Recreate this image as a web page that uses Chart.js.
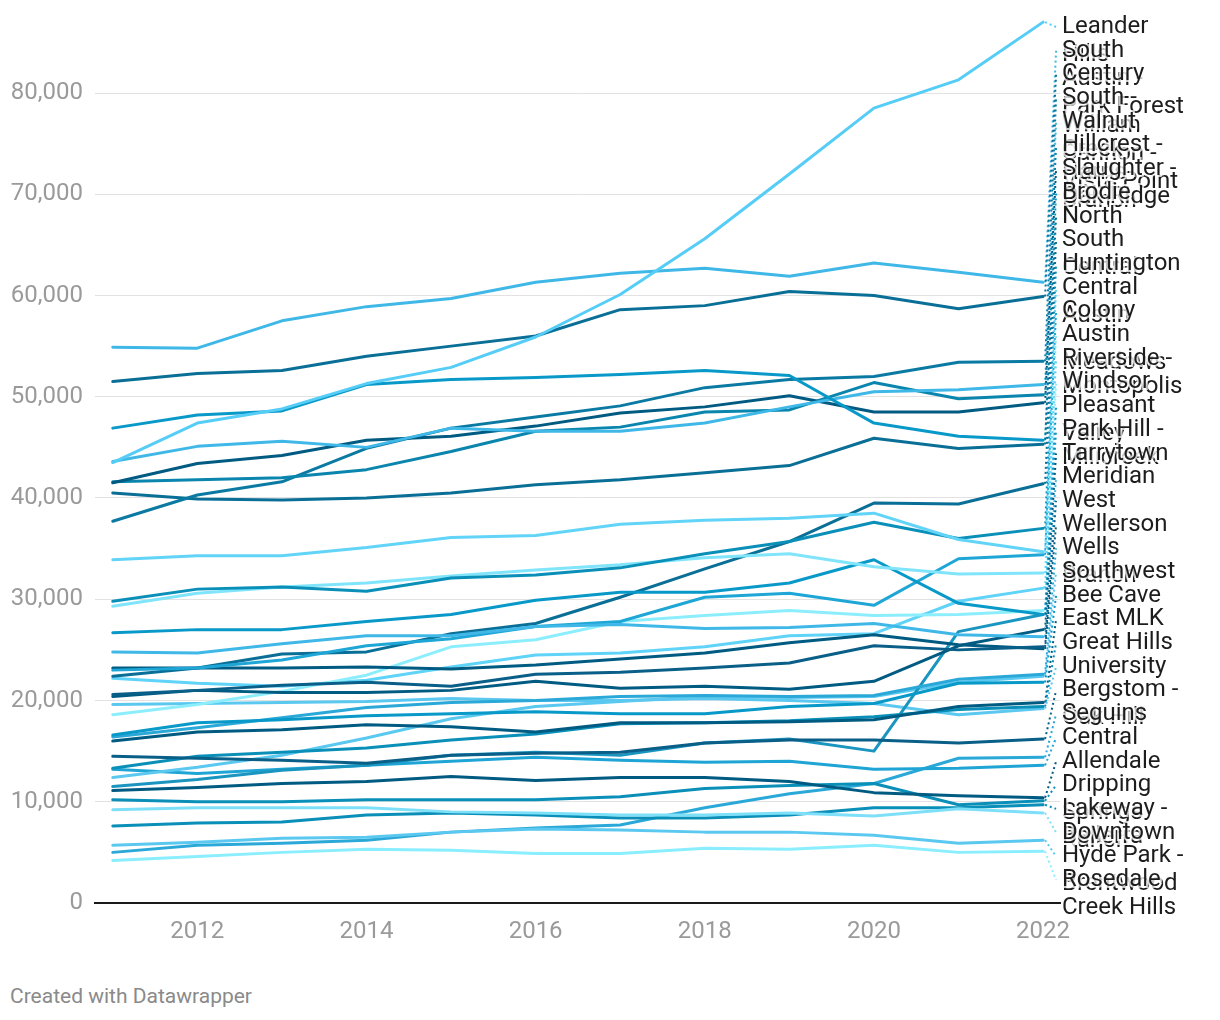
<!DOCTYPE html>
<html><head><meta charset="utf-8">
<script src="https://cdn.jsdelivr.net/npm/chart.js@4.4.1/dist/chart.umd.min.js"></script>
<style>
body{margin:0;background:#fff;font-family:Roboto,sans-serif}
#wrap{position:relative;width:1220px;height:960px}
#foot{position:absolute;left:10px;top:984px;font:21px Roboto,sans-serif;color:#8a8a8a}
</style></head><body>
<div id="wrap"><canvas id="c"></canvas></div>
<div id="foot">Created with Datawrapper</div>
<script>
const years = [2011,2012,2013,2014,2015,2016,2017,2018,2019,2020,2021,2022];
const xTicks = [2012,2014,2016,2018,2020,2022];
const yTicks = [0,10000,20000,30000,40000,50000,60000,70000,80000];

const s01 = [43500,47400,48800,51300,52900,55900,60100,65600,72000,78500,81300,87000];
const s02 = [54900,54800,57500,58900,59700,61300,62200,62700,61900,63200,62300,61300];
const s03 = [51500,52300,52600,54000,55000,56000,58600,59000,60400,60000,58700,59900];
const s04 = [46900,48200,48600,51200,51700,51900,52200,52600,52100,47400,46100,45700];
const s05 = [43600,45100,45600,45000,46900,46600,46600,47400,49000,50500,50700,51200];
const s06 = [41500,43400,44200,45700,46100,47100,48400,49000,50100,48500,48500,49400];
const s07 = [41600,41800,42000,42800,44600,46600,47000,48500,48700,51400,49800,50200];
const s08 = [37700,40300,41600,44900,46900,48000,49100,50900,51700,52000,53400,53500];
const s09 = [40500,39900,39800,40000,40500,41300,41800,42500,43200,45900,44900,45300];
const s10 = [33900,34300,34300,35100,36100,36300,37400,37800,38000,38500,35900,34700];
const s11 = [29800,31000,31200,30800,32100,32400,33100,34500,35700,37600,36000,37000];
const s12 = [29300,30600,31200,31600,32300,32900,33400,34100,34500,33200,32500,32600];
const s13 = [26700,27000,27000,27800,28500,29900,30700,30700,31600,33900,29600,28500];
const s14 = [24800,24700,25600,26400,26400,27300,27500,27100,27200,27600,26500,26300];
const s15 = [23000,23200,24000,25400,26100,27300,27800,30200,30600,29400,34000,34400];
const s16 = [22400,23200,24600,24800,26600,27600,30200,33000,35700,39500,39400,41400];
const s17 = [20600,21000,21500,21800,21400,22600,22800,23200,23700,25400,25000,25300];
const s18 = [20400,21000,20800,20800,21000,21900,21200,21400,21100,21900,25400,27000];
const s19 = [23200,23200,23200,23300,23100,23500,24100,24700,25700,26500,25500,25100];
const s20 = [16600,17800,18100,18500,18700,18900,18700,18700,19400,19700,21700,21800];
const s21 = [16400,17300,18300,19300,19800,20000,20400,20500,20400,20500,22100,22600];
const s22 = [16000,16900,17100,17600,17400,16900,17800,17800,17900,18100,19400,19800];
const s23 = [14500,14300,14100,13800,14600,14800,14900,15800,16100,16100,15800,16200];
const s24 = [13300,14500,14900,15300,16100,16700,17700,17800,18000,18400,19100,19400];
const s25 = [11500,12200,13100,13600,14600,14900,14600,15800,16200,15000,26800,28500];
const s26 = [18600,19600,20900,22500,25300,26000,27800,28400,28900,28400,28500,28900];
const s27 = [22200,21700,21400,22000,23300,24500,24700,25300,26400,26600,29800,31100];
const s28 = [12400,13400,14600,16300,18200,19400,19900,20400,20300,20400,21800,22400];
const s29 = [19600,19700,19800,19900,20200,20000,20000,20200,20000,19700,18600,19200];
const s30 = [13200,12800,13200,13600,14000,14400,14100,13900,14000,13200,13300,13600];
const s31 = [11100,11400,11800,12000,12500,12100,12400,12400,12000,10900,10600,10400];
const s32 = [10200,10000,10000,10200,10200,10200,10500,11300,11600,11800,9700,10100];
const s33 = [9200,9400,9400,9400,9000,8900,8700,8700,8900,8600,9300,8900];
const s34 = [7600,7900,8000,8700,8900,8700,8400,8400,8700,9400,9400,9700];
const s35 = [5700,6000,6400,6500,7000,7300,7200,7000,7000,6700,5900,6200];
const s36 = [5000,5700,5900,6200,7000,7400,7700,9400,10800,11800,14300,14400];
const s37 = [4200,4600,5000,5300,5200,4900,4900,5400,5300,5700,5000,5100];

const seriesValues = [s01,s02,s03,s04,s05,s06,s07,s08,s09,s10,s11,s12,s13,s14,s15,s16,s17,s18,s19,s20,s21,s22,s23,s24,s25,s26,s27,s28,s29,s30,s31,s32,s33,s34,s35,s36,s37];
const seriesNames = [
"Leander Hills","South Austin - Park Forest","Century","Brodie","Walnut Creek",
"Slaughter - Oak Ridge","Hillcrest - Harris Branch","South - William Cannon - Vista Point","North","Central Austin",
"Huntington","Austin Meadows","Pleasant Valley","Meridian","Colony","South Central",
"West","Tarrytown","Wellerson","Bee Cave","Wells Branch","East MLK","Bergstom - Oak Hill","Great Hills",
"Park Hill - Millcreek","Windsor","Riverside - Montopolis","Southwest","University","Central",
"Allendale","Dripping Springs Ranch","Downtown","Lakeway - Bellerra","Hyde Park - Brentwood","Seguins","Rosedale Creek Hills"
];
const colors = ["#56cdf6","#3fb8e8","#0a6f96","#0899c8","#3fb8e8","#005b82","#0a85ad","#0a7aa3","#0a6f96",
"#62d4f8","#0a8fb8","#80e4fb","#0899c8","#3fb8e8","#1ea6d6","#0a6f96","#0a5f88","#005b82","#005b82",
"#0899c8","#2aa8d8","#005b82","#0a5f88","#0a8fb8","#1a95c0","#8ceefd","#5fd3f8","#5bc8f0","#5bc8f0",
"#1fa5d5","#005b82","#0a8fb8","#7ddff8","#0a8fb8","#5bc8f0","#2aa8d8","#8aeeff"];

const datasets = seriesValues.map((vals,i)=>({
  label: seriesNames[i],
  data: years.map((y,j)=>({x:y,y:vals[j]})),
  borderColor: colors[i], backgroundColor: colors[i],
  borderWidth: 3, pointRadius: 0, tension: 0, fill:false,
  borderJoinStyle:'round', borderCapStyle:'round', clip:false
}));

function wrap(ctx, text, maxW){
  const words = text.split(' '); const lines=[]; let cur='';
  for(const w of words){
    const t = cur ? cur+' '+w : w;
    if(ctx.measureText(t).width > maxW && cur){ lines.push(cur); cur=w; } else cur=t;
  }
  if(cur) lines.push(cur);
  return lines;
}

const labelPlugin = {
  id:'labels',
  afterDatasetsDraw(chart){
    const ctx = chart.ctx;
    const n = chart.data.datasets.length;
    const items = chart.data.datasets.map((d,i)=>{
      const m = chart.getDatasetMeta(i).data;
      const p = m[m.length-1];
      return {i, v:d.data[d.data.length-1].y, px:p.x, py:p.y, color:d.borderColor, name:d.label};
    }).sort((a,b)=>b.v-a.v);
    const top = 27, bottom = 880;
    const step = (bottom-top)/(n-1);
    ctx.save();
    items.forEach((it,k)=>{
      const ly = top + k*step;
      ctx.beginPath();
      ctx.setLineDash([2,3]);
      ctx.lineWidth = 2;
      ctx.strokeStyle = it.color;
      ctx.moveTo(it.px+2, it.py);
      ctx.lineTo(it.px+13, ly);
      ctx.stroke();
    });
    ctx.setLineDash([]);
    ctx.font = '24px Roboto';
    ctx.textBaseline = 'middle';
    ctx.textAlign = 'left';
    items.forEach((it,k)=>{
      const ly = top + k*step;
      const lines = wrap(ctx, it.name, 128);
      lines.forEach((ln,j)=>{
        const y = ly + j*28;
        ctx.lineWidth = 4;
        ctx.strokeStyle = 'rgba(255,255,255,0.75)';
        ctx.strokeText(ln, 1062, y);
        ctx.fillStyle = '#1d1d1d';
        ctx.fillText(ln, 1062, y);
      });
    });
    ctx.restore();
  }
};

new Chart(document.getElementById('c'), {
  type:'line',
  data:{datasets},
  plugins:[labelPlugin],
  options:{
    responsive:true, maintainAspectRatio:false, animation:false,
    layout:{padding:{top:12,right:160,left:0,bottom:0}},
    plugins:{legend:{display:false}, tooltip:{enabled:false}},
    scales:{
      x:{type:'linear', min:2010.79, max:2022.2,
        afterBuildTicks:s=>{s.ticks = xTicks.map(v=>({value:v}));},
        afterFit:s=>{s.height=57; s.paddingLeft=0; s.paddingRight=0;},
        ticks:{font:{size:24,family:'Roboto'}, color:'#9a9a9a', padding:15, maxRotation:0, callback:v=>String(v)},
        grid:{display:false, drawTicks:false},
        border:{display:true, color:'#1a1a1a', width:2}
      },
      y:{min:0, max:88000,
        afterBuildTicks:s=>{s.ticks = yTicks.map(v=>({value:v}));},
        afterFit:s=>{s.width=95; s.paddingTop=0; s.paddingBottom=0;},
        ticks:{font:{size:24,family:'Roboto'}, color:'#9a9a9a', padding:12, callback:v=>v.toLocaleString('en-US')},
        grid:{color:'#e2e2e2', lineWidth:1, drawTicks:false},
        border:{display:false}
      }
    }
  }
});
</script>
</body></html>
